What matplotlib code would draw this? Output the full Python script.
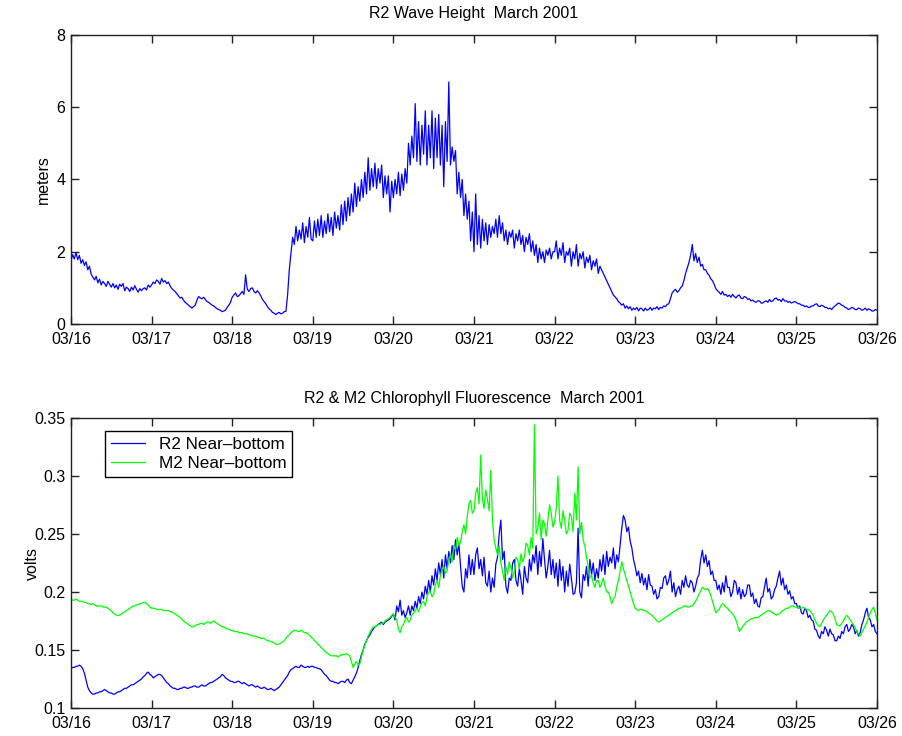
import numpy as np
import matplotlib
matplotlib.use("Agg")
import matplotlib.pyplot as plt

OUTPUT = "out.png"

# sample interval of the records (hours), start = 03/16 00:00
STEP_HOURS = 0.5

DAY_LABELS = ["03/16", "03/17", "03/18", "03/19", "03/20", "03/21",
              "03/22", "03/23", "03/24", "03/25", "03/26"]

# R2 significant wave height (m), half-hourly
wave_height = [
    # 03/16
    1.75, 1.92, 1.80, 1.98, 1.78, 1.90, 1.68, 1.78, 1.62, 1.72, 1.50, 1.60,
    1.38, 1.30, 1.22, 1.32, 1.14, 1.24, 1.08, 1.18, 1.12, 1.04, 1.18, 1.10,
    1.02, 1.12, 1.00, 1.08, 0.96, 1.10, 1.04, 1.12, 0.92, 1.02, 0.98, 0.90,
    1.02, 0.94, 1.06, 0.96, 0.88, 0.98, 0.92, 0.98, 1.00, 0.94, 1.08, 1.02,
    # 03/17
    1.08, 1.16, 1.12, 1.22, 1.18, 1.10, 1.26, 1.16, 1.20, 1.12, 1.16, 1.06,
    0.98, 0.94, 0.90, 0.84, 0.78, 0.72, 0.74, 0.66, 0.60, 0.56, 0.52, 0.48,
    0.44, 0.48, 0.52, 0.66, 0.76, 0.72, 0.70, 0.74, 0.68, 0.62, 0.60, 0.56,
    0.52, 0.50, 0.46, 0.42, 0.40, 0.38, 0.34, 0.36, 0.38, 0.46, 0.52, 0.60,
    # 03/18
    0.74, 0.80, 0.86, 0.76, 0.78, 0.84, 0.90, 0.82, 1.36, 0.96, 0.90, 0.98,
    1.00, 0.90, 0.86, 0.92, 0.86, 0.78, 0.68, 0.62, 0.56, 0.48, 0.42, 0.38,
    0.32, 0.30, 0.26, 0.30, 0.32, 0.28, 0.30, 0.34, 0.35, 0.80, 1.50, 1.95,
    2.40, 2.20, 2.70, 2.30, 2.60, 2.35, 2.80, 2.25, 2.70, 2.40, 2.95, 2.35,
    # 03/19
    2.30, 2.85, 2.40, 2.90, 2.45, 3.00, 2.40, 2.85, 2.50, 3.05, 2.55, 2.95,
    2.45, 3.10, 2.65, 3.00, 2.60, 3.30, 2.75, 3.40, 2.85, 3.50, 3.00, 3.60,
    3.10, 3.90, 3.25, 3.80, 3.40, 4.00, 3.50, 4.20, 3.60, 4.60, 3.70, 4.30,
    3.80, 4.45, 3.75, 4.30, 3.90, 4.40, 3.50, 4.10, 3.60, 4.10, 3.10, 3.95,
    # 03/20
    3.50, 4.00, 3.60, 4.20, 3.55, 4.15, 3.70, 4.30, 3.90, 5.00, 4.40, 5.20,
    4.60, 6.10, 4.50, 5.60, 4.40, 5.50, 4.70, 5.90, 4.40, 5.50, 4.60, 5.90,
    4.30, 5.70, 4.60, 5.80, 4.40, 5.50, 3.80, 5.60, 4.50, 6.70, 4.40, 4.90,
    4.50, 4.80, 3.60, 4.20, 3.50, 4.00, 3.00, 3.60, 2.90, 3.40, 2.30, 3.10,
    # 03/21
    2.00, 3.60, 2.20, 3.00, 2.10, 2.90, 2.30, 2.80, 2.20, 2.75, 2.40, 2.70,
    2.50, 2.90, 2.40, 3.00, 2.50, 2.80, 2.30, 2.60, 2.20, 2.55, 2.40, 2.60,
    2.10, 2.50, 2.30, 2.60, 2.20, 2.45, 2.00, 2.40, 2.20, 2.50, 2.00, 2.30,
    1.90, 2.20, 1.70, 2.10, 1.80, 2.00, 1.70, 2.05, 1.90, 2.10, 1.80, 2.00,
    # 03/22
    2.00, 2.30, 1.80, 2.10, 1.90, 2.25, 1.70, 2.00, 1.90, 2.10, 1.60, 2.00,
    1.80, 2.20, 1.60, 1.95, 1.80, 2.00, 1.55, 1.85, 1.70, 1.90, 1.50, 1.75,
    1.60, 1.80, 1.40, 1.60, 1.50, 1.40, 1.30, 1.20, 1.10, 1.00, 0.90, 0.80,
    0.75, 0.70, 0.62, 0.58, 0.52, 0.56, 0.44, 0.50, 0.42, 0.48, 0.38, 0.44,
    # 03/23
    0.40, 0.46, 0.36, 0.44, 0.42, 0.36, 0.44, 0.38, 0.40, 0.46, 0.38, 0.44,
    0.42, 0.48, 0.40, 0.46, 0.44, 0.50, 0.48, 0.54, 0.56, 0.70, 0.86, 0.92,
    0.96, 0.88, 0.92, 1.00, 1.05, 1.20, 1.40, 1.55, 1.70, 1.90, 2.20, 1.75,
    1.95, 1.70, 1.85, 1.60, 1.65, 1.50, 1.50, 1.40, 1.35, 1.25, 1.20, 1.10,
    # 03/24
    0.98, 0.92, 0.88, 0.82, 0.90, 0.80, 0.82, 0.76, 0.80, 0.74, 0.82, 0.76,
    0.72, 0.78, 0.80, 0.72, 0.70, 0.76, 0.74, 0.68, 0.70, 0.64, 0.66, 0.62,
    0.60, 0.64, 0.64, 0.58, 0.58, 0.62, 0.64, 0.60, 0.68, 0.62, 0.64, 0.70,
    0.72, 0.66, 0.68, 0.62, 0.70, 0.64, 0.64, 0.60, 0.62, 0.58, 0.60, 0.62,
    # 03/25
    0.60, 0.56, 0.56, 0.52, 0.52, 0.48, 0.50, 0.46, 0.46, 0.50, 0.50, 0.54,
    0.56, 0.50, 0.48, 0.52, 0.50, 0.46, 0.46, 0.42, 0.44, 0.40, 0.46, 0.50,
    0.54, 0.58, 0.56, 0.52, 0.50, 0.46, 0.44, 0.40, 0.42, 0.46, 0.44, 0.40,
    0.40, 0.44, 0.42, 0.38, 0.40, 0.44, 0.38, 0.42, 0.40, 0.36, 0.36, 0.40,
    # 03/26 00:00
    0.38,
]

# near-bottom chlorophyll fluorescence (volts), half-hourly
r2_fluor = [
    # 03/16
    0.134, 0.135, 0.135, 0.136, 0.136, 0.137, 0.136, 0.134, 0.130, 0.124, 0.118, 0.115,
    0.113, 0.112, 0.112, 0.113, 0.113, 0.114, 0.114, 0.115, 0.116, 0.115, 0.114, 0.113,
    0.113, 0.112, 0.112, 0.113, 0.114, 0.114, 0.115, 0.116, 0.117, 0.117, 0.118, 0.119,
    0.120, 0.120, 0.121, 0.122, 0.123, 0.124, 0.125, 0.127, 0.128, 0.130, 0.131, 0.129,
    # 03/17
    0.128, 0.126, 0.127, 0.128, 0.129, 0.129, 0.128, 0.126, 0.124, 0.122, 0.121, 0.119,
    0.118, 0.117, 0.117, 0.116, 0.116, 0.117, 0.117, 0.118, 0.118, 0.117, 0.117, 0.118,
    0.118, 0.119, 0.119, 0.118, 0.118, 0.119, 0.120, 0.119, 0.119, 0.120, 0.121, 0.122,
    0.122, 0.123, 0.124, 0.125, 0.126, 0.127, 0.129, 0.128, 0.126, 0.125, 0.124, 0.123,
    # 03/18
    0.123, 0.122, 0.122, 0.123, 0.123, 0.122, 0.121, 0.122, 0.121, 0.120, 0.119, 0.120,
    0.120, 0.119, 0.118, 0.119, 0.118, 0.117, 0.117, 0.118, 0.117, 0.116, 0.116, 0.117,
    0.116, 0.115, 0.116, 0.117, 0.118, 0.120, 0.122, 0.124, 0.126, 0.128, 0.131, 0.133,
    0.134, 0.135, 0.136, 0.135, 0.135, 0.137, 0.136, 0.135, 0.135, 0.136, 0.135, 0.136,
    # 03/19
    0.136, 0.135, 0.135, 0.134, 0.134, 0.133, 0.131, 0.129, 0.128, 0.126, 0.124, 0.123,
    0.123, 0.122, 0.122, 0.121, 0.122, 0.123, 0.123, 0.122, 0.124, 0.125, 0.122, 0.121,
    0.124, 0.127, 0.130, 0.135, 0.141, 0.146, 0.150, 0.155, 0.158, 0.161, 0.163, 0.166,
    0.168, 0.170, 0.171, 0.172, 0.173, 0.174, 0.172, 0.174, 0.175, 0.176, 0.177, 0.179,
    # 03/20
    0.181, 0.176, 0.188, 0.183, 0.193, 0.180, 0.184, 0.178, 0.182, 0.188, 0.180, 0.188,
    0.184, 0.192, 0.186, 0.196, 0.190, 0.200, 0.194, 0.205, 0.198, 0.210, 0.200, 0.214,
    0.206, 0.220, 0.210, 0.225, 0.215, 0.228, 0.212, 0.232, 0.220, 0.235, 0.225, 0.240,
    0.228, 0.245, 0.232, 0.242, 0.222, 0.205, 0.200, 0.220, 0.212, 0.232, 0.215, 0.228,
    # 03/21
    0.215, 0.232, 0.238, 0.220, 0.228, 0.214, 0.230, 0.208, 0.205, 0.218, 0.200, 0.212,
    0.204, 0.224, 0.230, 0.250, 0.262, 0.228, 0.235, 0.205, 0.199, 0.212, 0.210, 0.225,
    0.228, 0.210, 0.205, 0.220, 0.210, 0.198, 0.222, 0.212, 0.208, 0.228, 0.218, 0.232,
    0.225, 0.240, 0.215, 0.235, 0.222, 0.246, 0.228, 0.212, 0.222, 0.236, 0.215, 0.228,
    # 03/22
    0.212, 0.225, 0.205, 0.228, 0.210, 0.222, 0.200, 0.218, 0.205, 0.224, 0.212, 0.198,
    0.199, 0.208, 0.255, 0.200, 0.195, 0.215, 0.210, 0.222, 0.205, 0.228, 0.215, 0.225,
    0.210, 0.220, 0.212, 0.228, 0.218, 0.232, 0.215, 0.235, 0.222, 0.230, 0.225, 0.238,
    0.220, 0.232, 0.226, 0.240, 0.255, 0.266, 0.262, 0.252, 0.256, 0.244, 0.238, 0.228,
    # 03/23
    0.222, 0.214, 0.218, 0.208, 0.216, 0.206, 0.212, 0.202, 0.215, 0.206, 0.205, 0.198,
    0.202, 0.194, 0.196, 0.204, 0.203, 0.212, 0.214, 0.206, 0.210, 0.218, 0.200, 0.208,
    0.196, 0.202, 0.205, 0.198, 0.210, 0.204, 0.214, 0.206, 0.204, 0.210, 0.208, 0.200,
    0.205, 0.212, 0.215, 0.228, 0.236, 0.225, 0.232, 0.222, 0.227, 0.215, 0.218, 0.210,
    # 03/24
    0.210, 0.202, 0.206, 0.198, 0.208, 0.200, 0.214, 0.204, 0.204, 0.196, 0.200, 0.210,
    0.208, 0.198, 0.204, 0.194, 0.202, 0.196, 0.198, 0.206, 0.206, 0.196, 0.199, 0.190,
    0.194, 0.188, 0.187, 0.195, 0.196, 0.204, 0.212, 0.200, 0.203, 0.194, 0.196, 0.202,
    0.205, 0.212, 0.218, 0.206, 0.212, 0.202, 0.206, 0.198, 0.201, 0.194, 0.196, 0.190,
    # 03/25
    0.190, 0.186, 0.188, 0.182, 0.181, 0.186, 0.184, 0.178, 0.180, 0.176, 0.175, 0.168,
    0.167, 0.162, 0.160, 0.166, 0.164, 0.170, 0.167, 0.162, 0.168, 0.164, 0.163, 0.158,
    0.158, 0.162, 0.160, 0.166, 0.164, 0.170, 0.172, 0.166, 0.168, 0.172, 0.170, 0.164,
    0.167, 0.162, 0.165, 0.172, 0.176, 0.182, 0.186, 0.178, 0.176, 0.170, 0.172, 0.166,
    # 03/26 00:00
    0.164,
]

m2_fluor = [
    # 03/16
    0.194, 0.193, 0.193, 0.194, 0.193, 0.192, 0.192, 0.192, 0.191, 0.191, 0.190, 0.190,
    0.189, 0.190, 0.189, 0.188, 0.188, 0.188, 0.188, 0.187, 0.187, 0.187, 0.186, 0.185,
    0.184, 0.182, 0.181, 0.180, 0.180, 0.180, 0.181, 0.182, 0.183, 0.184, 0.185, 0.186,
    0.187, 0.188, 0.188, 0.189, 0.189, 0.190, 0.190, 0.191, 0.191, 0.190, 0.189, 0.187,
    # 03/17
    0.186, 0.186, 0.186, 0.185, 0.185, 0.185, 0.185, 0.184, 0.184, 0.184, 0.184, 0.183,
    0.183, 0.182, 0.181, 0.180, 0.179, 0.178, 0.177, 0.175, 0.174, 0.173, 0.172, 0.171,
    0.170, 0.170, 0.171, 0.172, 0.172, 0.173, 0.173, 0.172, 0.173, 0.174, 0.174, 0.173,
    0.174, 0.175, 0.174, 0.173, 0.172, 0.171, 0.170, 0.170, 0.169, 0.168, 0.168, 0.167,
    # 03/18
    0.167, 0.166, 0.166, 0.166, 0.165, 0.165, 0.165, 0.164, 0.164, 0.164, 0.163, 0.163,
    0.162, 0.162, 0.162, 0.161, 0.161, 0.160, 0.160, 0.160, 0.159, 0.158, 0.158, 0.157,
    0.157, 0.156, 0.155, 0.155, 0.155, 0.156, 0.157, 0.158, 0.160, 0.162, 0.163, 0.165,
    0.166, 0.167, 0.167, 0.166, 0.166, 0.167, 0.166, 0.165, 0.165, 0.164, 0.163, 0.161,
    # 03/19
    0.160, 0.158, 0.157, 0.155, 0.154, 0.152, 0.151, 0.149, 0.148, 0.147, 0.146, 0.145,
    0.145, 0.145, 0.145, 0.144, 0.145, 0.146, 0.146, 0.146, 0.147, 0.146, 0.145, 0.140,
    0.135, 0.138, 0.140, 0.137, 0.138, 0.144, 0.150, 0.154, 0.158, 0.162, 0.165, 0.168,
    0.170, 0.170, 0.171, 0.172, 0.172, 0.173, 0.173, 0.175, 0.176, 0.177, 0.178, 0.180,
    # 03/20
    0.181, 0.178, 0.176, 0.168, 0.165, 0.170, 0.172, 0.176, 0.178, 0.174, 0.176, 0.180,
    0.182, 0.184, 0.186, 0.183, 0.187, 0.191, 0.192, 0.188, 0.196, 0.200, 0.201, 0.196,
    0.198, 0.206, 0.210, 0.204, 0.214, 0.220, 0.222, 0.216, 0.218, 0.228, 0.232, 0.226,
    0.240, 0.236, 0.247, 0.240, 0.243, 0.252, 0.258, 0.250, 0.265, 0.276, 0.279, 0.268,
    # 03/21
    0.270, 0.285, 0.290, 0.276, 0.318, 0.280, 0.272, 0.288, 0.280, 0.270, 0.305, 0.262,
    0.245, 0.238, 0.232, 0.240, 0.225, 0.218, 0.210, 0.222, 0.215, 0.226, 0.221, 0.212,
    0.218, 0.230, 0.228, 0.220, 0.233, 0.226, 0.230, 0.242, 0.240, 0.232, 0.247, 0.238,
    0.344, 0.250, 0.255, 0.268, 0.245, 0.262, 0.259, 0.248, 0.262, 0.275, 0.268, 0.256,
    # 03/22
    0.260, 0.272, 0.300, 0.262, 0.255, 0.270, 0.262, 0.250, 0.253, 0.268, 0.265, 0.252,
    0.285, 0.262, 0.308, 0.250, 0.260, 0.245, 0.240, 0.230, 0.222, 0.212, 0.215, 0.208,
    0.204, 0.210, 0.210, 0.204, 0.207, 0.212, 0.205, 0.200, 0.200, 0.196, 0.190, 0.194,
    0.196, 0.204, 0.210, 0.218, 0.226, 0.220, 0.215, 0.210, 0.205, 0.200, 0.195, 0.190,
    # 03/23
    0.186, 0.185, 0.184, 0.185, 0.185, 0.184, 0.184, 0.183, 0.182, 0.181, 0.180, 0.178,
    0.177, 0.175, 0.174, 0.175, 0.176, 0.177, 0.178, 0.179, 0.180, 0.181, 0.182, 0.183,
    0.184, 0.185, 0.186, 0.186, 0.187, 0.188, 0.188, 0.187, 0.187, 0.188, 0.188, 0.190,
    0.192, 0.195, 0.198, 0.201, 0.204, 0.203, 0.202, 0.203, 0.201, 0.197, 0.192, 0.187,
    # 03/24
    0.182, 0.184, 0.185, 0.188, 0.190, 0.189, 0.187, 0.186, 0.184, 0.183, 0.181, 0.179,
    0.176, 0.171, 0.166, 0.168, 0.170, 0.172, 0.174, 0.175, 0.176, 0.177, 0.177, 0.178,
    0.178, 0.178, 0.179, 0.180, 0.181, 0.182, 0.183, 0.184, 0.184, 0.183, 0.182, 0.181,
    0.180, 0.181, 0.181, 0.183, 0.184, 0.185, 0.186, 0.186, 0.187, 0.188, 0.188, 0.187,
    # 03/25
    0.187, 0.187, 0.186, 0.186, 0.187, 0.186, 0.185, 0.185, 0.184, 0.182, 0.180, 0.176,
    0.173, 0.171, 0.170, 0.173, 0.176, 0.178, 0.180, 0.182, 0.184, 0.183, 0.181, 0.177,
    0.172, 0.171, 0.171, 0.173, 0.175, 0.178, 0.180, 0.178, 0.176, 0.174, 0.172, 0.169,
    0.166, 0.164, 0.162, 0.165, 0.168, 0.171, 0.174, 0.178, 0.182, 0.185, 0.187, 0.182,
    # 03/26 00:00
    0.176,
]

COLOR_R2 = "#0000FF"
COLOR_M2 = "#00FF00"
FONT = ["Liberation Sans", "DejaVu Sans"]
FS = 11.5


def style_axes(ax):
    ax.set_xlim(0, len(DAY_LABELS) - 1)
    ax.set_xticks(np.arange(len(DAY_LABELS)))
    ax.set_xticklabels(DAY_LABELS)
    ax.tick_params(direction="in", length=6, width=1.0, top=True, right=True,
                   labelsize=FS, color="#222222")
    ax.tick_params(axis="x", pad=6)
    ax.tick_params(axis="y", pad=4)
    for sp in ax.spines.values():
        sp.set_linewidth(1.0)
        sp.set_color("#222222")


def main():
    plt.rcParams["font.family"] = FONT
    fig = plt.figure(figsize=(9.03, 7.36), dpi=100)

    # ── wave height ─────────────────────────────────────────────
    t = np.arange(len(wave_height)) * STEP_HOURS / 24.0
    ax1 = fig.add_axes([0.0786, 0.5598, 0.8926, 0.3927])
    ax1.plot(t, wave_height, color=COLOR_R2, lw=0.9)
    ax1.set_ylim(0, 8)
    ax1.set_yticks([0, 2, 4, 6, 8])
    ax1.set_ylabel("meters", fontsize=FS)
    ax1.yaxis.set_label_coords(-0.025, 0.5)
    ax1.set_title("R2 Wave Height  March 2001", fontsize=FS, pad=12)
    style_axes(ax1)

    # ── fluorescence ────────────────────────────────────────────
    tf = np.arange(len(r2_fluor)) * STEP_HOURS / 24.0
    ax2 = fig.add_axes([0.0786, 0.0380, 0.8926, 0.3941])
    ax2.plot(tf, r2_fluor, color=COLOR_R2, lw=0.9, label="R2 Near\u2013bottom")
    ax2.plot(tf, m2_fluor, color=COLOR_M2, lw=0.9, label="M2 Near\u2013bottom")
    ax2.set_ylim(0.1, 0.35)
    ax2.set_yticks([0.1, 0.15, 0.2, 0.25, 0.3, 0.35])
    ax2.set_yticklabels(["0.1", "0.15", "0.2", "0.25", "0.3", "0.35"])
    ax2.set_ylabel("volts", fontsize=FS)
    ax2.yaxis.set_label_coords(-0.0385, 0.5)
    ax2.set_title("R2 & M2 Chlorophyll Fluorescence  March 2001", fontsize=FS, pad=11)
    style_axes(ax2)
    leg = ax2.legend(loc="upper left", bbox_to_anchor=(0.042, 0.955), fontsize=12.3,
                     frameon=True, fancybox=False, framealpha=1, edgecolor="black",
                     handlelength=2.0, labelspacing=0.25, borderpad=0.35,
                     borderaxespad=0)
    leg.get_frame().set_linewidth(1.0)

    fig.savefig(OUTPUT, dpi=100)
    plt.close(fig)


if __name__ == "__main__":
    main()
